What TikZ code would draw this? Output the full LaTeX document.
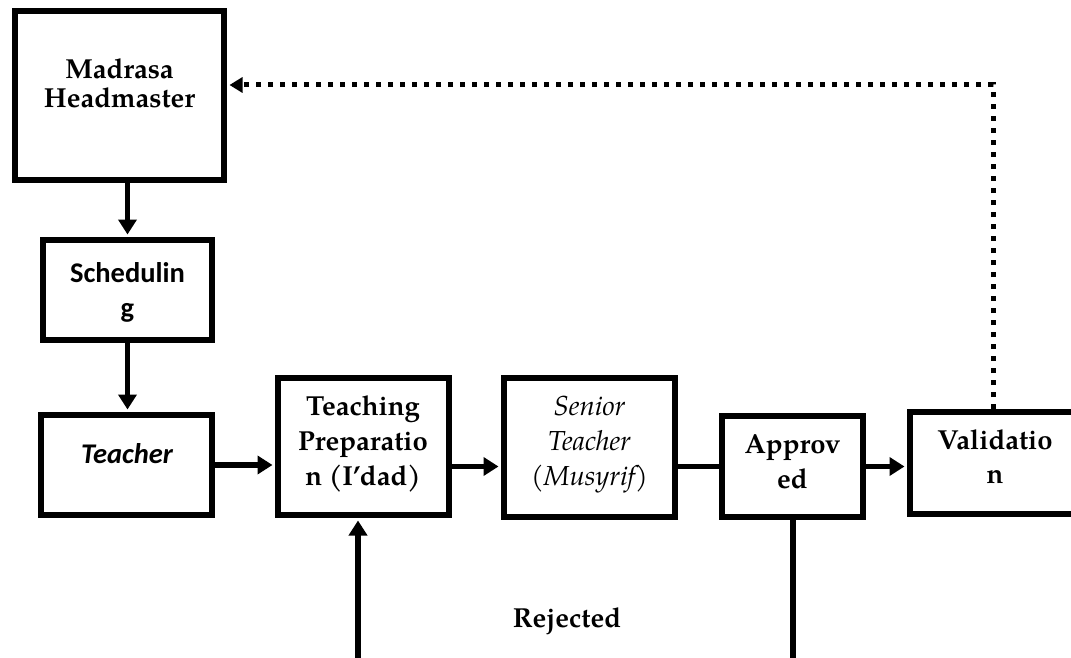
\documentclass[tikz,border=0pt]{standalone}
\usepackage{fontspec}
\setmainfont{Carlito}
\IfFontExistsTF{TeX Gyre Pagella}
  {\newfontfamily\palfam{TeX Gyre Pagella}}
  {\newfontfamily\palfam{Liberation Serif}}
\usetikzlibrary{arrows.meta}
\newcommand\palb{\palfam\fontsize{27.5}{30}\selectfont\bfseries}
\newcommand\pali{\palfam\fontsize{27.5}{30}\selectfont\itshape}
\newcommand\calb{\fontsize{28.5}{30}\selectfont\bfseries}
\tikzset{
  box/.style={draw=black, line width=6pt, rectangle, inner sep=0pt},
  txt/.style={inner sep=0pt, anchor=base},
  conn/.style={line width=5.5pt},
  arr/.style={conn, -{Triangle[length=15pt,width=18pt]}, shorten >=2.5pt},
  dots/.style={line width=5pt, dash pattern=on 5pt off 7pt, -{Triangle[length=13pt,width=15pt]}, shorten >=2.5pt}
}
\begin{document}
\begin{tikzpicture}[x=1pt,y=-1pt]
\useasboundingbox (0,0) rectangle (1071,658);
\clip (0,0) rectangle (1071,658);
% boxes
\node[box, minimum width=209pt, minimum height=169pt] (hm) at (119.5,95.5) {};
\node[box, minimum width=169pt, minimum height=100pt] (sch) at (127.5,290) {};
\node[box, minimum width=171pt, minimum height=100pt] (tea) at (126.5,465) {};
\node[box, minimum width=171pt, minimum height=137pt] (prep) at (363.5,446.5) {};
\node[box, minimum width=171pt, minimum height=139pt] (sen) at (589.5,447.5) {};
\node[box, minimum width=141pt, minimum height=101pt] (app) at (792.5,466.5) {};
\node[box, minimum width=170pt, minimum height=102pt] (val) at (995,463) {};
% texts
\node[txt, font=\palb] (hmA) at (119.5,79) {Madrasa};
\node[txt, font=\palb] (hmB) at (119.5,108) {Headmaster};
\node[txt, font=\calb] (schA) at (127.5,282) {Schedulin};
\node[txt, font=\calb] (schB) at (127.5,317) {g};
\node[txt, font=\calb] (teaA) at (127,463) {\itshape Teacher};
\node[txt, font=\palb] (prepA) at (363,415) {Teaching};
\node[txt, font=\palb] (prepB) at (363,450) {Preparatio};
\node[txt, font=\palb] (prepC) at (363,485) {n (I’dad)};
\node[txt, font=\pali] (senA) at (589.5,415) {Senior};
\node[txt, font=\pali] (senB) at (589.5,450) {Teacher};
\node[txt, font=\pali] (senC) at (589.5,485) {(Musyrif)};
\node[txt, font=\palb] (appA) at (792.5,453) {Approv};
\node[txt, font=\palb] (appB) at (792.5,488) {ed};
\node[txt, font=\palb] (valA) at (995,449) {Validatio};
\node[txt, font=\palb] (valB) at (995,483) {n};
\node[txt, font=\palb] (rej) at (567,627) {Rejected};
% free ends
\coordinate (bl) at (358,660);
\coordinate (br) at (793,660);
\coordinate (tr) at (993,85);
% connectors
\draw[arr] (sch.north |- hm.south) -- (sch.north);
\draw[arr] (sch.south) -- (sch.south |- tea.north);
\draw[arr] (tea.east) -- (tea.east -| prep.west);
\draw[arr] (prep.east |- app.west) -- (sen.west |- app.west);
\draw[conn] (sen.east |- app.west) -- (app.west);
\draw[arr] (app.east) -- (app.east -| val.west);
\draw[arr] (bl) -- (bl |- prep.south);
\draw[conn] (br |- app.south) -- (br);
\draw[dots] (tr |- val.north) -- (tr) -- (tr -| hm.east);
\end{tikzpicture}
\end{document}
